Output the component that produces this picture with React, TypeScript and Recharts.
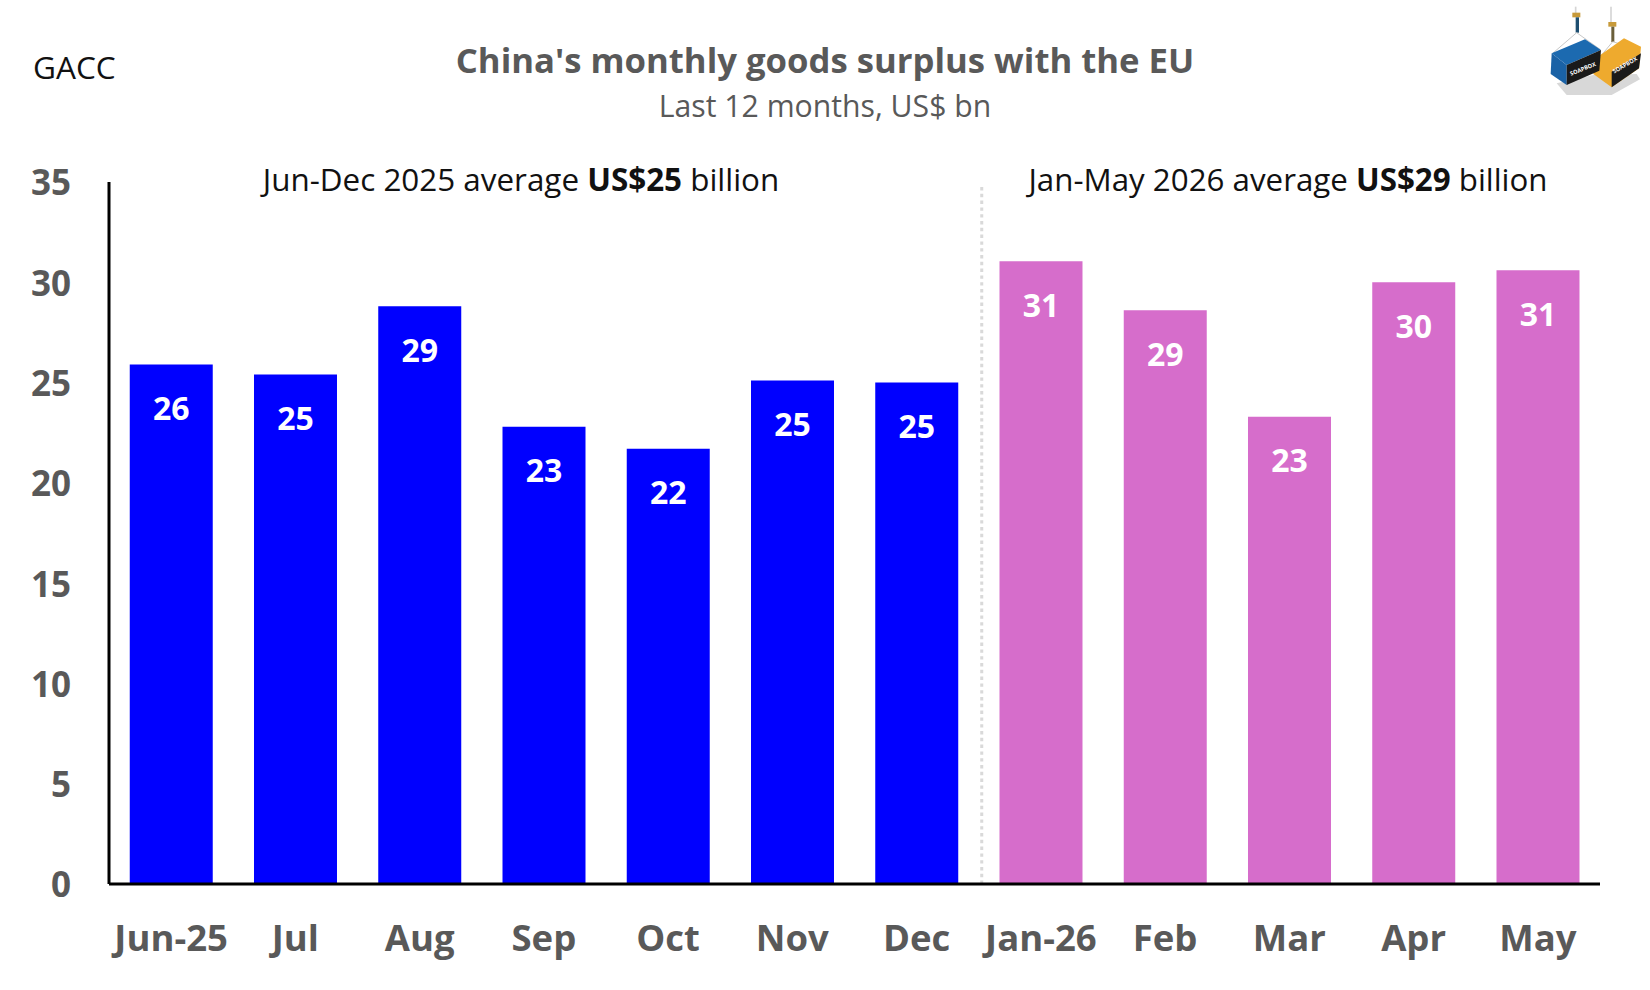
import { BarChart, Bar, Cell, XAxis, YAxis, LabelList, ReferenceLine } from "recharts";

const MONTHS = ["Jun-25", "Jul", "Aug", "Sep", "Oct", "Nov", "Dec", "Jan-26", "Feb", "Mar", "Apr", "May"];
const SURPLUS = [25.9, 25.4, 28.8, 22.8, 21.7, 25.1, 25.0, 31.05, 28.6, 23.3, 30.0, 30.6];
const Y_TICKS = [0, 5, 10, 15, 20, 25, 30, 35];
const FIRST_2026 = "Jan-26";

const BLUE = "#0000ff";
const PINK = "#d66dcb";
const GREY = "#595959";
const FONT = "'Open Sans', sans-serif";

const data = MONTHS.map((month, i) => ({ month, surplus: SURPLUS[i] }));

const textAt = (left: number, top: number, width: number, size: number, color: string, weight = 400, align: any = "center") => ({
  position: "absolute" as const,
  left,
  top,
  width,
  fontSize: size,
  color,
  fontWeight: weight,
  textAlign: align,
  lineHeight: 1,
  whiteSpace: "nowrap" as const,
});

// rough redraw of the two hanging containers in the corner
function Logo() {
  return (
    <svg width={110} height={105} viewBox="0 0 330 315" style={{ position: "absolute", left: 1540, top: 0 }}>
      <polygon points="50,250 160,225 290,222 300,238 215,285 80,285" fill="#d8d8d8" />
      <line x1="107" y1="20" x2="107" y2="40" stroke="#d5d5d5" strokeWidth="5" />
      <line x1="213" y1="20" x2="213" y2="68" stroke="#d5d5d5" strokeWidth="5" />
      <rect x="97" y="38" width="24" height="14" fill="#c79a3a" />
      <rect x="205" y="66" width="24" height="14" fill="#c79a3a" />
      <rect x="107" y="52" width="10" height="46" fill="#1d4e70" />
      <rect x="214" y="80" width="9" height="46" fill="#6b5f3a" />
      <polyline points="38,160 110,98 180,148" fill="none" stroke="#c8c8c8" strokeWidth="3" />
      <polyline points="185,165 218,125 300,150" fill="none" stroke="#c8c8c8" strokeWidth="3" />
      <polygon points="160,222 163,178 252,115 303,140 297,205 215,262" fill="#eeaa2e" />
      <polygon points="215,215 303,160 297,205 215,262" fill="#1a1a1a" />
      <polygon points="35,160 135,118 183,150 80,195" fill="#1c6ab0" />
      <polygon points="35,160 80,195 80,255 32,222" fill="#1a62a6" />
      <polygon points="80,195 183,150 178,212 80,255" fill="#1a1a1a" />
      <text x="131" y="212" fontSize="17" fill="#ffffff" fontFamily={FONT} fontWeight={700} textAnchor="middle" transform="rotate(-22 131 212)">SOAPBOX</text>
      <text x="258" y="200" fontSize="17" fill="#ffffff" fontFamily={FONT} fontWeight={700} textAnchor="middle" transform="rotate(-30 258 200)">SOAPBOX</text>
    </svg>
  );
}

export default function App() {
  return (
    <div style={{ position: "fixed", left: 0, top: 0, width: 1650, height: 990, background: "#fff", fontFamily: FONT }}>
      <div style={textAt(33, 51, 120, 31.6, "#111111", 400, "left")}>GACC</div>
      <div style={textAt(325, 43, 1000, 34.7, GREY, 700)}>China's monthly goods surplus with the EU</div>
      <div style={textAt(325, 91, 1000, 30.2, GREY)}>Last 12 months, US$ bn</div>
      <div style={textAt(221, 163, 600, 31.4, "#111111")}>
        Jun-Dec 2025 average <b>US$25</b> billion
      </div>
      <div style={textAt(998, 164, 580, 31.3, "#111111")}>
        Jan-May 2026 average <b>US$29</b> billion
      </div>
      <Logo />
      <BarChart
        width={1650}
        height={990}
        data={data}
        margin={{ top: 182, right: 50, bottom: 0, left: 0 }}
        barCategoryGap="16.7%"
        style={{ position: "absolute", left: 0, top: 0 }}
      >
        <XAxis
          dataKey="month"
          height={106}
          interval={0}
          axisLine={{ stroke: "#000000", strokeWidth: 3 }}
          tickLine={false}
          tickMargin={35}
          tick={{ fill: GREY, fontSize: 36.5, fontWeight: 700, fontFamily: FONT }}
        />
        <YAxis
          width={109}
          domain={[0, 35]}
          ticks={Y_TICKS}
          axisLine={{ stroke: "#000000", strokeWidth: 3 }}
          tickLine={false}
          tickMargin={32}
          tick={{ fill: GREY, fontSize: 35, fontWeight: 700, fontFamily: FONT, dy: 1 }}
        />
        <ReferenceLine
          segment={[{ x: FIRST_2026, y: 0 }, { x: FIRST_2026, y: 34.85 }]}
          position="start"
          stroke="#d9d9d9"
          strokeWidth={3}
          strokeDasharray="3.4 3.4"
          style={{ transform: "translateX(3px)" }}
        />
        <Bar dataKey="surplus" isAnimationActive={false}>
          {MONTHS.map((m, i) => (
            <Cell key={m} fill={i < 7 ? BLUE : PINK} />
          ))}
          <LabelList
            dataKey="surplus"
            position="insideTop"
            offset={33}
            formatter={(v: any) => Math.round(v)}
            style={{ fill: "#ffffff", fontSize: 32, fontWeight: 700, fontFamily: FONT }}
          />
        </Bar>
      </BarChart>
    </div>
  );
}
